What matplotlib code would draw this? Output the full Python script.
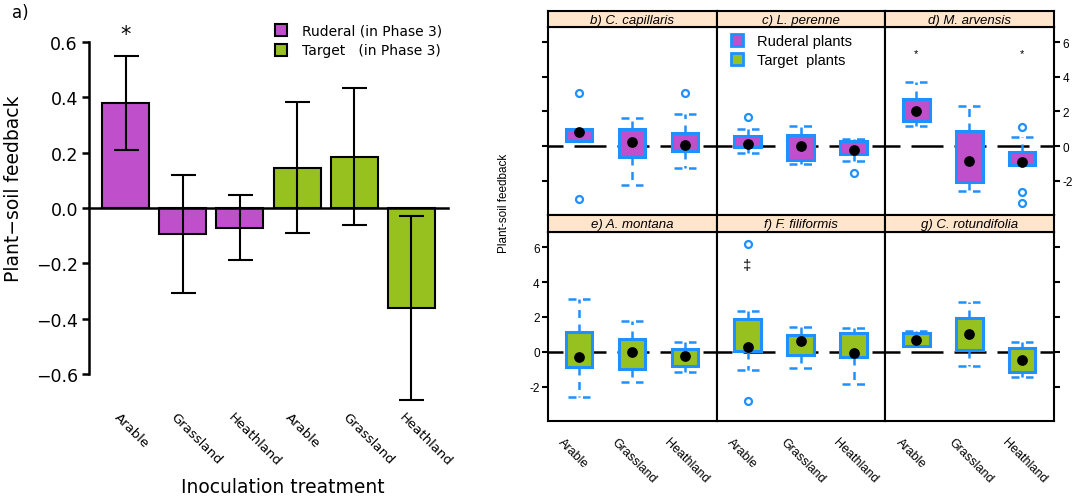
import matplotlib
matplotlib.use("Agg")
import matplotlib.pyplot as plt
from matplotlib.lines import Line2D

# ---- panel a: mean plant-soil feedback per inoculation treatment ----
treatments = ["Arable", "Grassland", "Heathland", "Arable", "Grassland", "Heathland"]
phase3_group = ["Ruderal", "Ruderal", "Ruderal", "Target", "Target", "Target"]
psf_mean = [0.378, -0.095, -0.071, 0.145, 0.185, -0.361]
psf_se = [0.170, 0.213, 0.118, 0.236, 0.247, 0.333]

# ---- panels b-g: per species boxplots (Arable, Grassland, Heathland) ----
panel_titles = ["b) C. capillaris", "c) L. perenne", "d) M. arvensis",
                "e) A. montana", "f) F. filiformis", "g) C. rotundifolia"]
panel_group = ["Ruderal", "Ruderal", "Ruderal", "Target", "Target", "Target"]
box_cats = ["Arable", "Grassland", "Heathland"]
box_whislo = [[0.31, -2.23, -1.27], [-0.40, -1.04, -0.85], [1.17, -2.61, -1.09],
              [-2.62, -1.72, -1.18], [-1.07, -0.95, -1.86], [0.35, -0.82, -1.44]]
box_q1 = [[0.31, -0.65, -0.27], [-0.07, -0.81, -0.46], [1.46, -2.09, -1.09],
          [-0.90, -0.99, -0.80], [0.02, -0.17, -0.29], [0.35, 0.08, -1.18]]
box_med = [[0.79, 0.25, 0.06], [0.12, 0.02, -0.23], [2.03, -0.85, -0.94],
           [-0.29, -0.04, -0.25], [0.25, 0.63, -0.07], [0.67, 1.04, -0.50]]
box_q3 = [[0.98, 0.98, 0.73], [0.56, 0.65, 0.27], [2.71, 0.88, -0.36],
          [1.15, 0.73, 0.16], [1.88, 0.96, 1.07], [1.07, 1.95, 0.23]]
box_whishi = [[0.98, 1.61, 1.88], [0.98, 1.17, 0.40], [3.67, 2.29, 0.54],
              [3.03, 1.75, 0.57], [2.36, 1.44, 1.36], [1.21, 2.86, 0.57]]
box_fliers = [[[3.09, -3.05], [], [3.09]], [[1.69], [], [-1.54]],
              [[], [], [1.08, -2.63, -3.30]], [[], [], []],
              [[6.21, -2.83], [], []], [[], [], []]]
# significance marks: (panel, category index, y, symbol)
sig_marks = [(2, 0, 5.35, "*"), (2, 2, 5.35, "*"), (4, 0, 4.98, "\u2021")]

magenta = "#C04FCC"
green = "#96C11F"
blue = "#1E90FF"
strip_col = "#FFE5CC"
fill = {"Ruderal": magenta, "Target": green}

W, H = 1084, 502
fig = plt.figure(figsize=(W / 100, H / 100), dpi=100)


def px(x0, y0, x1, y1):
    return [x0 / W, 1 - y1 / H, (x1 - x0) / W, (y1 - y0) / H]


# ================= panel a =================
plt.rcParams["font.family"] = ["DejaVu Sans"]
ax = fig.add_axes(px(89, 20.6, 448, 408.5))
xs = list(range(len(treatments)))
ax.bar(xs, psf_mean, width=0.82, color=[fill[g] for g in phase3_group],
       edgecolor="black", linewidth=1.5, zorder=2)
ax.errorbar(xs, psf_mean, yerr=psf_se, fmt="none", ecolor="black",
            elinewidth=1.5, capsize=9, capthick=1.5, zorder=3)
ax.set_xlim(-0.64, 5.64)
ax.set_ylim(-0.72, 0.68)
for s in ["top", "right"]:
    ax.spines[s].set_visible(False)
ax.spines["bottom"].set_position(("data", 0))
ax.spines["bottom"].set_linewidth(1.8)
ax.spines["left"].set_linewidth(1.8)
ax.spines["left"].set_bounds(-0.6, 0.6)
ax.set_xticks([])
yt = [-0.6, -0.4, -0.2, 0.0, 0.2, 0.4, 0.6]
ax.set_yticks(yt, [f"{v:.1f}".replace("-", "\u2212") for v in yt])
ax.tick_params(axis="y", length=5, width=1.8, labelsize=12.5, pad=3)
for i, t in enumerate(treatments):
    ax.text(i - 0.25, -0.729, t, rotation=-45, ha="left", va="top", fontsize=9.5)
ax.text(0, 0.605, "*", ha="center", va="baseline", fontsize=15)
leg_handles = [Line2D([], [], marker="s", ls="none", markersize=9,
                      markerfacecolor=fill[g], markeredgecolor="black",
                      markeredgewidth=1.5) for g in ["Ruderal", "Target"]]
ax.legend(leg_handles, ["Ruderal (in Phase 3)", "Target   (in Phase 3)"],
          loc="upper left", bbox_to_anchor=(0.515, 0.989), frameon=False,
          fontsize=10, handlelength=1.0, handletextpad=1.0, borderpad=0,
          borderaxespad=0, labelspacing=0.4)
fig.text(14 / W, 1 - 189 / H, "Plant\u2212soil feedback", rotation=90,
         ha="center", va="center", fontsize=13.5)
fig.text(283 / W, 1 - 488 / H, "Inoculation treatment", ha="center",
         va="center", fontsize=13.5)
fig.text(20 / W, 1 - 13 / H, "a)", ha="center", va="center", fontsize=12)

# ================= panels b-g =================
rfont = ["Liberation Sans", "DejaVu Sans"]
col_x = [548, 716.67, 885.33]
cw = 168.67
rows = [(12, 28, 216), (216, 233, 422)]  # strip top, plot top, plot bottom
dash = (0, (3.2, 2.6))

for k, title in enumerate(panel_titles):
    r, c = divmod(k, 3)
    x0 = col_x[c]
    st, pt, pb = rows[r]
    ax = fig.add_axes(px(x0, pt, x0 + cw, pb))
    ax.axhline(0, color="black", lw=1.8, ls=(6.8, (12.8, 4.4)), zorder=1)
    stats = []
    for j in range(3):
        stats.append(dict(whislo=box_whislo[k][j], q1=box_q1[k][j],
                          med=box_med[k][j], q3=box_q3[k][j],
                          whishi=box_whishi[k][j], fliers=box_fliers[k][j]))
    ax.bxp(stats, positions=[1, 2, 3], widths=0.5, capwidths=0.42,
           patch_artist=True,
           boxprops=dict(facecolor=fill[panel_group[k]], edgecolor=blue, linewidth=2.2),
           whiskerprops=dict(color=blue, linewidth=1.8, linestyle=dash),
           capprops=dict(color=blue, linewidth=1.8, linestyle=dash),
           medianprops=dict(visible=False),
           flierprops=dict(marker="o", markerfacecolor="none", markeredgecolor=blue,
                           markersize=5, markeredgewidth=1.6))
    ax.scatter([1, 2, 3], box_med[k], s=45, color="black", zorder=5)
    ax.set_xlim(0.415, 3.6)
    ax.set_ylim(-3.97, 6.87)
    for s in ax.spines.values():
        s.set_linewidth(1.5)
    ax.set_xticks([])
    ax.set_yticks([-2, 0, 2, 4, 6], ["-2", "0", "2", "4", "6"])
    ax.tick_params(axis="y", direction="out", length=4, width=1.5,
                   labelsize=8.5, pad=2,
                   left=(c == 0), right=(c == 2),
                   labelleft=(c == 0 and r == 1), labelright=(c == 2 and r == 0))
    for lab in ax.get_yticklabels():
        lab.set_family(rfont)
    if r == 1:
        for j, t in enumerate(box_cats):
            ax.text(j + 1 - 0.43, -0.079, t, rotation=-45, ha="left", va="top",
                    fontsize=9, family=rfont, transform=ax.get_xaxis_transform())
    for (pk, cj, yv, sym) in sig_marks:
        if pk == k:
            ax.text(cj + 1, yv, sym, ha="center", va="center",
                    fontsize=8 if sym == "*" else 11, family=rfont)
    if k == 1:
        h = [Line2D([], [], marker="s", ls="none", markersize=9,
                    markerfacecolor=fill[g], markeredgecolor=blue,
                    markeredgewidth=2) for g in ["Ruderal", "Target"]]
        leg = ax.legend(h, ["Ruderal plants", "Target  plants"], loc="upper left",
                        bbox_to_anchor=(0.077, 0.963), frameon=False,
                        fontsize=10.5, handlelength=1.0, handletextpad=0.87,
                        labelspacing=0.37, borderpad=0, borderaxespad=0)
        for t in leg.get_texts():
            t.set_family(rfont)
    sax = fig.add_axes(px(x0, st, x0 + cw, pt))
    sax.set_facecolor(strip_col)
    sax.set_xticks([])
    sax.set_yticks([])
    for s in sax.spines.values():
        s.set_linewidth(1.5)
    sax.text(0.5, 0.45, title, style="italic", ha="center", va="center",
             fontsize=9.5, family=rfont, transform=sax.transAxes)

fig.text(504 / W, 1 - 203 / H, "Plant-soil feedback", rotation=90, ha="center",
         va="center", fontsize=8.5, family=rfont)

fig.savefig("out.png", dpi=100)
